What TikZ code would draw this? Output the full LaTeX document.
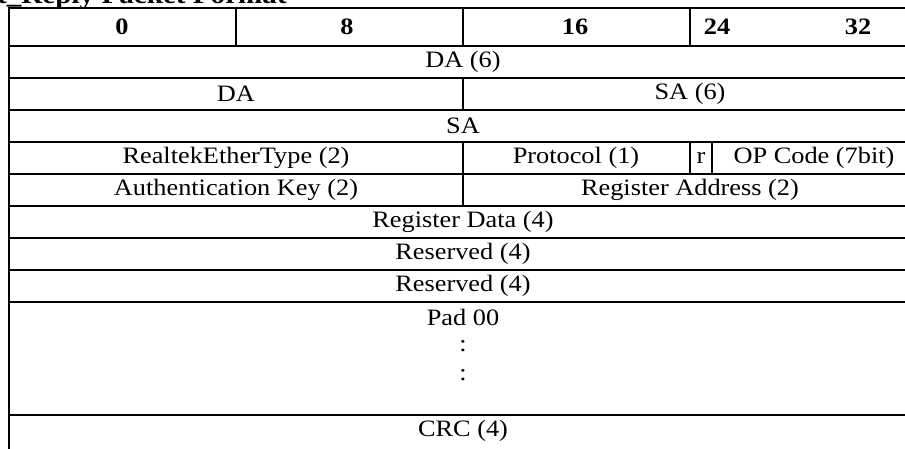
\documentclass[tikz,border=0pt]{standalone}
\usepackage{fontspec}
\setmainfont{Liberation Serif}[FakeStretch=1.12]
\begin{document}
\begin{tikzpicture}[x=1pt,y=-1pt,
  grid/.style={line width=1.8pt,line cap=rect},
  cell/.style={inner sep=0pt,font=\fontsize{23.5}{27}\selectfont},
  hcell/.style={inner sep=0pt,font=\fontsize{23.5}{27}\selectfont\bfseries},
  ttl/.style={inner sep=0pt,font=\fontsize{26}{30}\selectfont\bfseries}]
\useasboundingbox (0,0) rectangle (905,448);
\clip (0,0) rectangle (905,448);
% title (cut off at top, as in the reference)
\node[ttl,anchor=base west] (title) at (-3,3) {t\_Reply Packet Format};
% outer frame and rows
\draw[grid] (9,8) -- (917,8);
\foreach \y in {46,78,110,142,174,206,238,270,302,415}
  \draw[grid] (9,\y) -- (917,\y);
\draw[grid] (9,8) -- (9,450);
% vertical dividers
\draw[grid] (236,8) -- (236,46);
\draw[grid] (463,8) -- (463,46);
\draw[grid] (690,8) -- (690,46);
\draw[grid] (463,78) -- (463,110);
\draw[grid] (463,142) -- (463,206);
\draw[grid] (690,142) -- (690,174);
\draw[grid] (712,142) -- (712,174);
% header
\node[hcell] (h0) at (122,27) {0};
\node[hcell] (h8) at (347,27) {8};
\node[hcell] (h16) at (575,27) {16};
\node[hcell] (h24) at (717,27) {24};
\node[hcell] (h32) at (858,27) {32};
% fields
\node[cell] (da6) at (463,62) {DA (6)};
\node[cell] (da) at (236,94) {DA};
\node[cell] (sa6) at (690,94) {SA (6)};
\node[cell] (sa) at (463,126) {SA};
\node[cell] (ret) at (236,158) {RealtekEtherType (2)};
\node[cell] (proto) at (576,158) {Protocol (1)};
\node[cell] (r) at (701,158) {r};
\node[cell] (op) at (814,158) {OP Code (7bit)};
\node[cell] (auth) at (236,190) {Authentication Key (2)};
\node[cell] (raddr) at (690,190) {Register Address (2)};
\node[cell] (rdata) at (463,222) {Register Data (4)};
\node[cell] (res1) at (463,254) {Reserved (4)};
\node[cell] (res2) at (463,286) {Reserved (4)};
\node[cell] (pad) at (463,317) {Pad 00};
\node[cell] (c1) at (463,346) {:};
\node[cell] (c2) at (463,375) {:};
\node[cell] (crc) at (463,431) {CRC (4)};
\end{tikzpicture}
\end{document}
